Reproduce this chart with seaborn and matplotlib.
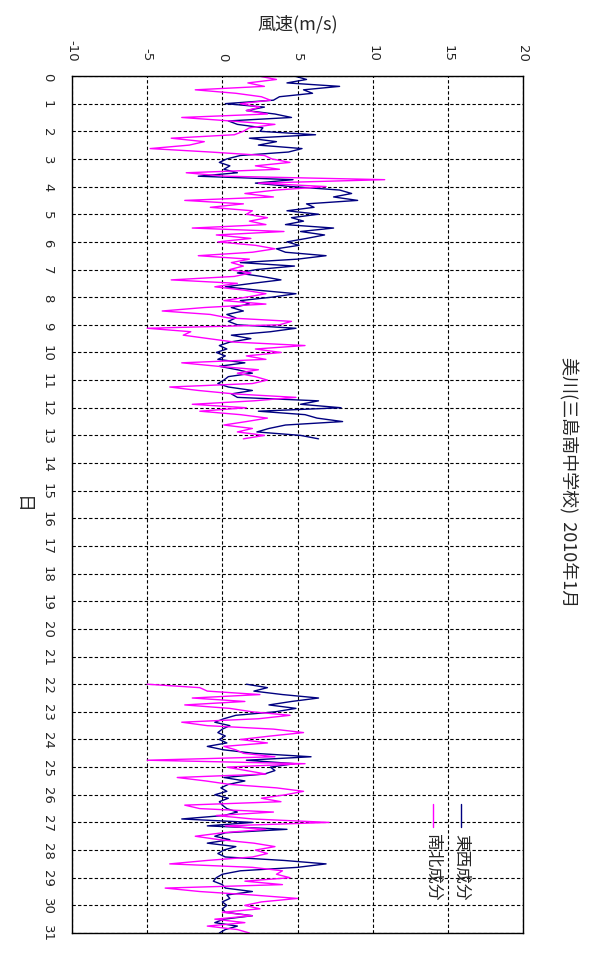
import numpy as np
import pandas as pd
import matplotlib
matplotlib.use("Agg")
import matplotlib.pyplot as plt
import seaborn as sns

# 3-hourly readings (8 per day)
# segment A: day 0.0 .. 13.125, segment B: day 22.0 .. 31.0
ew_a = [
    4.8, 5.6, 4.3, 7.8, 5.4, 6.0, 3.8, 3.4,
    0.2, 2.8, 1.6, 3.5, 4.6, 0.4, 1.0, 2.7,
    2.5, 6.2, 1.8, 3.6, 2.4, 5.3, 4.4, 1.2,
    0.3, -0.2, 0.5, 0.1, 1.0, -1.6, 4.7, 2.2,
    4.6, 7.8, 8.6, 7.4, 9.0, 5.6, 6.1, 4.3,
    6.4, 4.6, 5.4, 4.2, 7.4, 5.2, 6.8, 5.6,
    4.3, 5.1, 3.6, 4.2, 6.9, 5.0, 1.2, 4.8,
    2.3, 1.0, 2.6, 3.9, 2.0, 0.2, 2.4, 4.9,
    3.3, 1.2, 1.8, 0.6, 1.4, 0.3, 0.9, 0.4,
    1.0, 4.9, 3.2, 0.6, 1.9, 0.5, -0.2, 0.3,
    -0.4, 0.2, -0.3, 1.5, -0.2, 1.0, 2.0, 0.4,
    0.1, -0.3, 0.4, 2.0, 0.6, 1.0, 6.4, 5.2,
    7.9, 2.4, 5.5, 6.3, 8.0, 4.2, 3.1, 2.3,
    5.2, 6.4,
]
ns_a = [
    2.4, 3.6, 1.7, 2.8, -1.8, 0.9, 2.6, 3.2,
    1.2, 2.5, 1.6, 3.0, -2.7, 0.5, 3.5, 1.8,
    1.4, 0.8, -3.4, -1.2, -2.2, -4.8, -0.8, 2.8,
    3.3, 4.5, 2.2, 3.8, -2.4, 0.2, 10.8, 2.4,
    6.9, 3.6, 1.5, 3.4, -2.5, 1.4, -0.8, 2.0,
    1.6, 3.0, 1.8, 2.9, -2.0, 4.1, -0.4, 1.9,
    -0.3, 2.2, 3.5, 2.0, -1.6, 1.8, 0.6, 1.4,
    0.5, 1.9, 0.8, -3.4, 1.0, -0.5, 1.5, 2.9,
    1.6, 0.1, 2.9, -1.2, -4.0, -0.8, 0.4, 4.6,
    3.8, -5.0, -2.1, -2.6, -0.9, 0.8, 5.5, 2.2,
    3.9, 1.6, 2.9, -2.7, -0.3, 2.4, 1.0, 2.2,
    3.0, 2.0, -3.5, -1.6, 0.8, 4.9, 2.1, -2.0,
    1.6, -1.5, 1.2, 3.0, 1.6, 0.1, 2.0, 1.0,
    2.8, 1.4,
]
ew_b = [
    1.6, 3.0, 2.1, 4.0, 6.4, 4.6, 3.1, 4.9,
    3.5, 0.9, 0.1, -0.5, 0.5, 0.0, -0.3, 0.2,
    -0.2, 0.3, -1.0, 0.1, 2.1, 5.9, 1.6, 4.8,
    3.2, 3.5, 2.8, 0.1, 1.5, 0.4, -0.1, 0.3,
    -0.5, 0.4, -0.2, 0.0, 0.3, 1.0, 0.1, -2.7,
    2.0, -1.0, 4.3, 0.2, -0.5, 0.5, -1.0, 0.9,
    0.1, -0.3, 0.2, 4.1, 6.9, 5.0, 1.2, 0.0,
    -0.4, -0.6, 0.0, 0.2, 2.0, 0.3, 0.5, 0.0,
    0.3, 0.0, 0.2, 2.0, 0.1, -0.5, 1.0, 0.2,
    -0.2,
]
ns_b = [
    -5.0, -1.5, -1.0, 2.5, -2.0, 1.5, -2.5, 0.5,
    2.0, 4.5, 2.4, -2.7, -1.0, 3.4, 5.4, 3.2,
    1.2, 3.0, 0.1, 0.9, 1.4, 3.5, -5.0, 5.5,
    0.3, 1.6, 2.9, -3.0, -1.1, 0.5, 3.6, 5.4,
    4.2, 2.6, 3.9, -2.5, -1.5, 3.4, -0.4, 2.0,
    7.1, 0.2, 2.9, 0.0, -1.8, -0.2, 2.1, 3.5,
    2.2, 3.0, 2.0, -1.0, -3.5, 2.0, 4.0, 3.6,
    4.5, 1.5, 4.0, -3.8, -1.5, 2.0, 5.0, 2.6,
    1.5, 2.5, 0.0, 2.0, -0.5, 1.5, -1.0, 1.0,
    1.8,
]

day_a = np.arange(len(ew_a)) / 8
day_b = 22 + np.arange(len(ew_b)) / 8

title = "美川(三島南中学校)  2010年1月"
comp_names = ["東西成分", "南北成分"]
colors = {"東西成分": "#000080", "南北成分": "#ff00ff"}
speed_ticks = [-10, -5, 0, 5, 10, 15, 20]
day_ticks = list(range(0, 32))

frames = []
for name, va, vb in [("東西成分", ew_a, ew_b), ("南北成分", ns_a, ns_b)]:
    frames.append(pd.DataFrame({"day": day_a, "speed": va, "comp": name, "seg": "a"}))
    frames.append(pd.DataFrame({"day": day_b, "speed": vb, "comp": name, "seg": "b"}))
df = pd.concat(frames, ignore_index=True)

sns.set_style("white")
plt.rcParams["font.family"] = ["Noto Sans CJK JP", "DejaVu Sans"]
plt.rcParams["axes.unicode_minus"] = False

fig = plt.figure(figsize=(6.04, 9.70), dpi=100)
ax = fig.add_axes([72 / 604, 1 - 934 / 970, 451 / 604, 857 / 970])

sns.lineplot(
    data=df, x="speed", y="day", hue="comp", hue_order=comp_names,
    units="seg", estimator=None, orient="y", palette=colors,
    lw=1.0, legend=False, ax=ax,
)

ax.set_xlim(-10, 20)
ax.set_ylim(31, 0)
ax.xaxis.tick_top()
ax.xaxis.set_label_position("top")
ax.set_xticks(speed_ticks)
ax.set_xticklabels([str(t) for t in speed_ticks], rotation=-90,
                   family="DejaVu Sans")
ax.set_yticks(day_ticks)
ax.set_yticklabels([str(t) for t in day_ticks], rotation=-90, va="center",
                   family="DejaVu Sans")
ax.tick_params(axis="x", length=0, pad=11, labelsize=9.5)
ax.tick_params(axis="y", length=0, pad=13, labelsize=9.5)

ax.grid(True, color="black", lw=0.8, linestyle=(0, (3, 2)))
ax.set_axisbelow(True)
for s in ax.spines.values():
    s.set_color("black")
    s.set_linewidth(1.0)

ax.set_xlabel("風速(m/s)", fontsize=13)
ax.xaxis.set_label_coords(0.5, 1 + (77 - 24) / 857)
ax.xaxis.label.set_va("center")
ax.set_ylabel("日", fontsize=13, rotation=-90)
ax.yaxis.set_label_coords((22 - 72) / 451, 0.5)
ax.yaxis.label.set_va("center")

fig.text(568 / 604, 1 - 482 / 970, title, rotation=-90,
         ha="center", va="center", fontsize=13)

# legend drawn rotated to match the turned page
for i, name in enumerate(comp_names):
    lx = (461 - 28 * i) / 604
    fig.add_artist(plt.Line2D([lx, lx], [1 - 805 / 970, 1 - 828 / 970],
                              color=colors[name], lw=1.0,
                              transform=fig.transFigure))
    fig.text(lx, 1 - 834 / 970, name, rotation=-90, ha="center", va="top",
             fontsize=12)

fig.savefig("out.png", dpi=100, facecolor="white")
